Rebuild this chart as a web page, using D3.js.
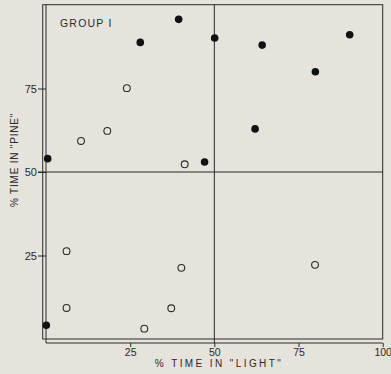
<!DOCTYPE html>
<html>
<head>
<meta charset="utf-8">
<script src="https://cdn.jsdelivr.net/npm/d3@7/dist/d3.min.js"></script>
<style>
  html, body { margin: 0; padding: 0; background: #e6e2dc; }
  svg { display: block; }
  text { font-family: "Liberation Sans", "DejaVu Sans", sans-serif; fill: #2a2a2a; }
</style>
</head>
<body>
<svg id="chart" width="391" height="374"></svg>
<script>
// Group I: % time spent in "light" vs % time spent in "pine"
const filledLight = [0.5, 28, 39.4, 50.1, 64.2, 90.2, 80, 62.1, 47.1, 0.1];
const filledPine  = [54, 88.8, 95.7, 90.1, 88, 91.1, 80, 62.9, 53, 4.1];
const openLight   = [10.4, 18.2, 24, 41.2, 6.1, 6.1, 29.2, 37.2, 40.2, 79.9];
const openPine    = [59.3, 62.3, 75.1, 52.3, 26.3, 9.3, 3.1, 9.2, 21.3, 22.2];
const xTicks = [25, 50, 75, 100];
const yTicks = [25, 50, 75];
const groupLabel = "GROUP I";
const xTitle = "% TIME IN \"LIGHT\"";
const yTitle = "% TIME IN \"PINE\"";

const ink = "#2a2a2a";
const font = "'Liberation Sans', 'DejaVu Sans', sans-serif";
const svg = d3.select("#chart");

const x = d3.scaleLinear().domain([0, 100]).range([46, 382.7]);
const y = d3.scaleLinear().domain([0, 100]).range([339, 5]);

// outer frame
svg.append("rect")
  .attr("x", 42.7).attr("y", 4.7)
  .attr("width", 382.7 - 42.7).attr("height", 339 - 4.7)
  .attr("fill", "none").attr("stroke", ink).attr("stroke-width", 1);

// axis lines offset from the frame
svg.append("line").attr("x1", 46).attr("x2", 46).attr("y1", 4.7).attr("y2", 343)
  .attr("stroke", ink).attr("stroke-width", 1);
svg.append("line").attr("x1", 46).attr("x2", 382.7).attr("y1", 343).attr("y2", 343)
  .attr("stroke", ink).attr("stroke-width", 1);

// quadrant dividers at 50%
svg.append("line").attr("x1", x(50)).attr("x2", x(50)).attr("y1", 4.7).attr("y2", 343)
  .attr("stroke", ink).attr("stroke-width", 1);
svg.append("line").attr("x1", 38).attr("x2", 382.7).attr("y1", y(50)).attr("y2", y(50))
  .attr("stroke", ink).attr("stroke-width", 1);

// x axis ticks and labels
const xAxis = d3.axisBottom(x).tickValues(xTicks).tickSize(4).tickPadding(2).tickFormat(d3.format("d"));
const gx = svg.append("g").attr("transform", "translate(0,343)").call(xAxis);
gx.select(".domain").remove();
gx.selectAll(".tick line").attr("stroke", ink);
gx.selectAll(".tick text").attr("font-size", 10.5).attr("fill", ink).style("font-family", font);

// y axis ticks and labels
const yAxis = d3.axisLeft(y).tickValues(yTicks).tickSize(8).tickPadding(1).tickFormat(d3.format("d"));
const gy = svg.append("g").attr("transform", "translate(46,0)").call(yAxis);
gy.select(".domain").remove();
gy.selectAll(".tick line").attr("stroke", ink);
gy.selectAll(".tick text").attr("font-size", 11).attr("fill", ink).style("font-family", font);

// titles
svg.append("text").attr("x", 60).attr("y", 26.5)
  .attr("font-size", 10.5).attr("letter-spacing", 1.2).text(groupLabel);

svg.append("text").attr("x", 219).attr("y", 366.5)
  .attr("text-anchor", "middle").attr("font-size", 10).attr("letter-spacing", 2.4)
  .text(xTitle);

svg.append("text")
  .attr("transform", "translate(18,160) rotate(-90)")
  .attr("text-anchor", "middle").attr("font-size", 10).attr("letter-spacing", 0.8)
  .text(yTitle);

// open circles
svg.append("g").selectAll("circle")
  .data(d3.zip(openLight, openPine))
  .join("circle")
  .attr("cx", d => x(d[0])).attr("cy", d => y(d[1]))
  .attr("r", 3.4)
  .attr("fill", "none").attr("stroke", ink).attr("stroke-width", 1.1);

// filled circles
svg.append("g").selectAll("circle")
  .data(d3.zip(filledLight, filledPine))
  .join("circle")
  .attr("cx", d => x(d[0])).attr("cy", d => y(d[1]))
  .attr("r", 3.8)
  .attr("fill", "#111");
</script>
</body>
</html>
